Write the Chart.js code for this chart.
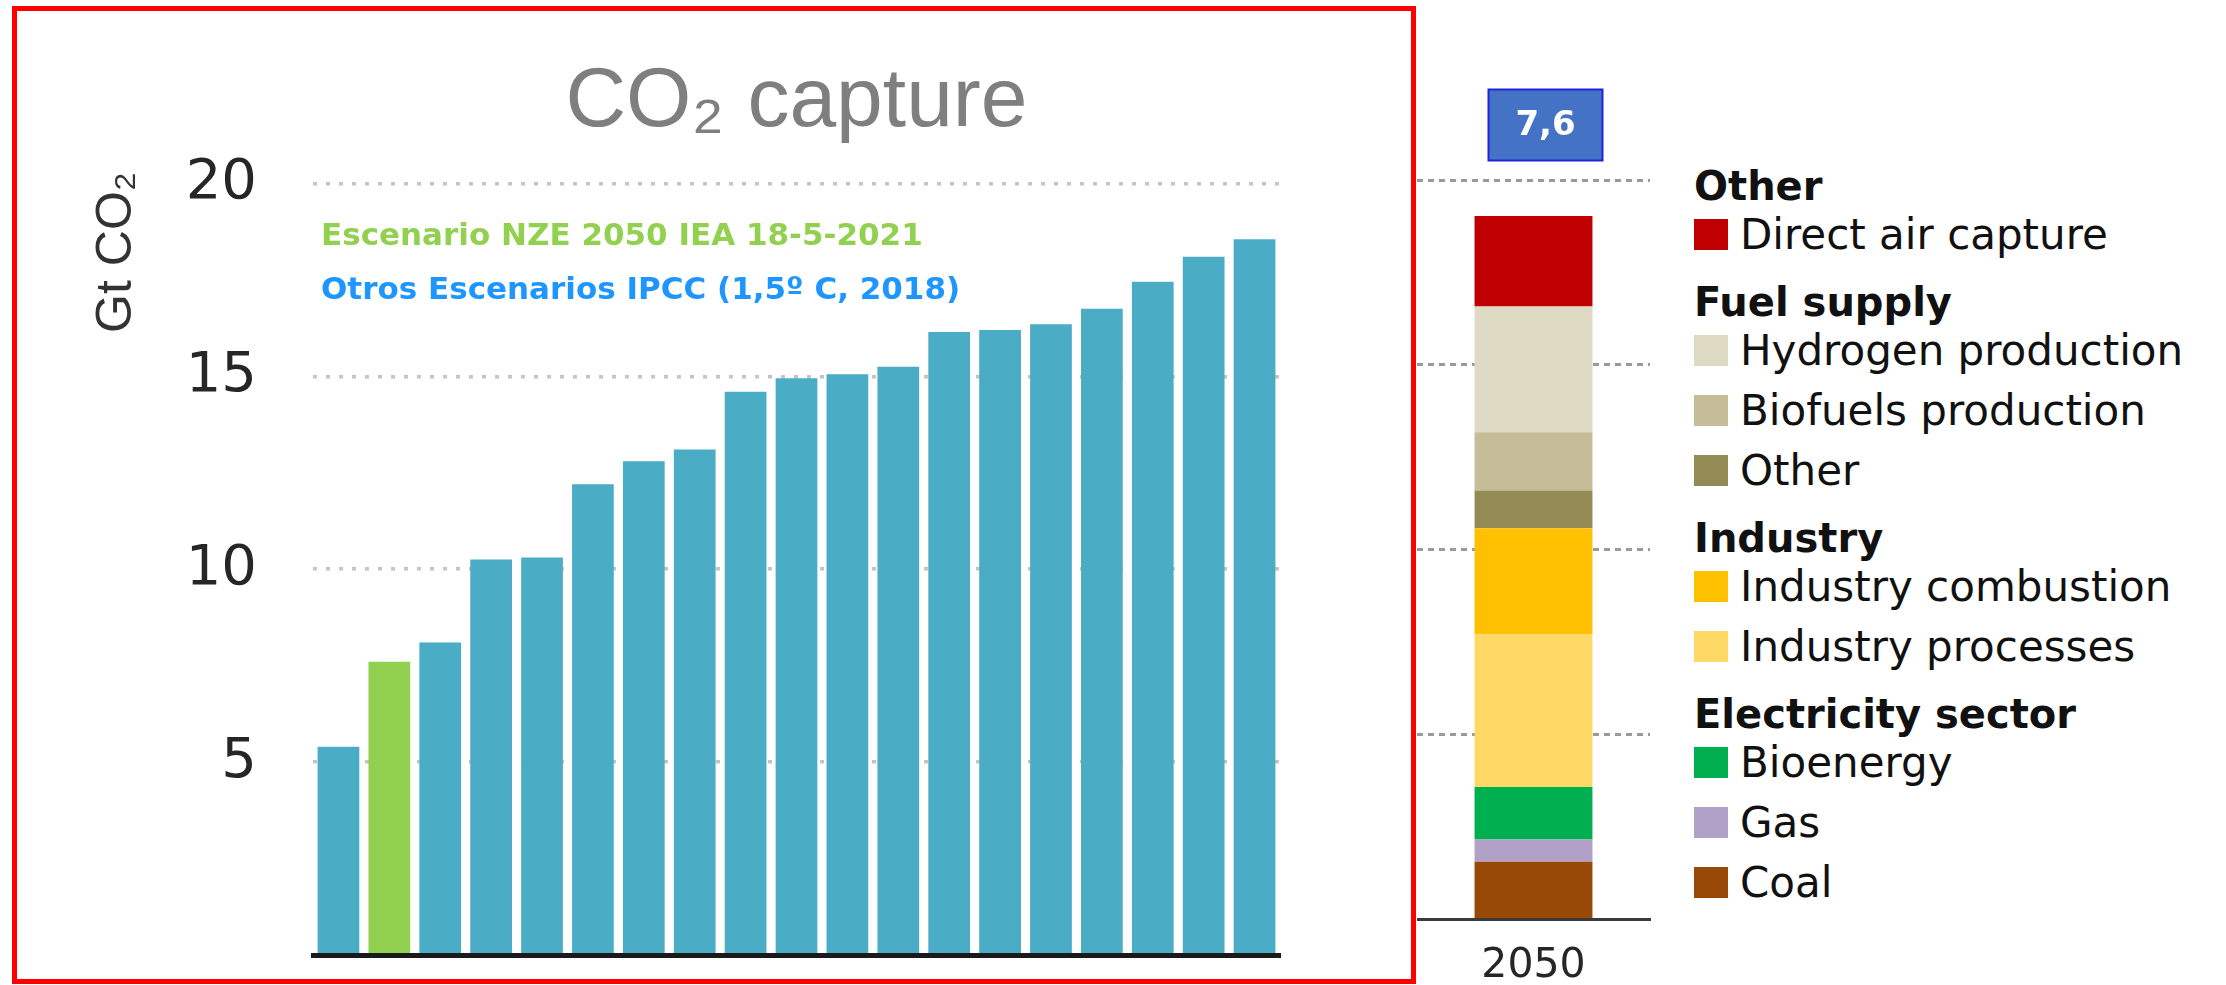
<!DOCTYPE html>
<html>
<head>
<meta charset="utf-8">
<title>CO2 capture</title>
<script src="https://cdn.jsdelivr.net/npm/chart.js@4.4.1/dist/chart.umd.min.js"></script>
<style>
  html, body { margin: 0; padding: 0; background: #fff; width: 2226px; height: 985px; overflow: hidden; }
  #scenarioChart { position: absolute; left: 0; top: 0; }
  #frame { position: absolute; left: 12px; top: 6px; width: 1404px; height: 978px; box-sizing: border-box; border: 5px solid #ff0000; pointer-events: none; }
  #sectorChart { position: absolute; left: 1417px; top: 0; }
  #legend { position: absolute; left: 1694px; top: 0; font-family: 'DejaVu Sans'; color: #111; }
  .row { position: absolute; left: 0; height: 50px; display: flex; align-items: center; white-space: nowrap; }
  .head { font-weight: bold; font-size: 40px; }
  .item { font-size: 42px; }
  .box { width: 34px; height: 31px; margin-right: 12px; }
</style>
</head>
<body>
<canvas id="scenarioChart" width="1420" height="985"></canvas>
<div id="frame"></div>
<canvas id="sectorChart" width="260" height="985"></canvas>
<div id="legend"></div>

<script>
// escenarios (Gt CO2 capturadas), ordenados de menor a mayor
var scenarioLabels = ['IPCC 1', 'IEA NZE 2050', 'IPCC 2', 'IPCC 3', 'IPCC 4', 'IPCC 5', 'IPCC 6',
    'IPCC 7', 'IPCC 8', 'IPCC 9', 'IPCC 10', 'IPCC 11', 'IPCC 12', 'IPCC 13', 'IPCC 14',
    'IPCC 15', 'IPCC 16', 'IPCC 17', 'IPCC 18'];
var scenarioValues = [5.4, 7.6, 8.1, 10.25, 10.3, 12.2, 12.8, 13.1, 14.6, 14.95, 15.05,
    15.25, 16.15, 16.2, 16.35, 16.75, 17.45, 18.1, 18.55];
var nzeIndex = 1;
var yTicks = [5, 10, 15, 20];
var noteLines = ['Escenario NZE 2050 IEA 18-5-2021', 'Otros Escenarios IPCC (1,5º C, 2018)'];

// desglose NZE 2050 (de abajo arriba)
var yearLabels = ['2050'];
var sectorLabels = ['Coal', 'Gas', 'Bioenergy', 'Industry processes', 'Industry combustion',
    'Other', 'Biofuels production', 'Hydrogen production', 'Direct air capture'];
var sectorValues = [0.62, 0.24, 0.57, 1.65, 1.15, 0.41, 0.63, 1.36, 0.98];
var sectorColors = ['#984807', '#b1a0c7', '#00b050', '#ffd966', '#ffc000',
    '#948a54', '#c4bd97', '#ddd9c3', '#c00000'];
var sectorTicks = [2, 4, 6, 8];
var legendGroups = [
    ['Other', ['Direct air capture']],
    ['Fuel supply', ['Hydrogen production', 'Biofuels production', 'Other']],
    ['Industry', ['Industry combustion', 'Industry processes']],
    ['Electricity sector', ['Bioenergy', 'Gas', 'Coal']]
];

Chart.defaults.font.family = 'DejaVu Sans';

// textos verde / azul dentro del area del grafico
var scenarioNotes = {
    id: 'scenarioNotes',
    afterDraw: function (chart) {
        var ctx = chart.ctx, area = chart.chartArea;
        ctx.save();
        ctx.font = 'bold 31px "DejaVu Sans"';
        ctx.textBaseline = 'middle';
        ctx.textAlign = 'left';
        ctx.fillStyle = '#92d050';
        ctx.fillText(noteLines[0], area.left + 8, area.top + 65);
        ctx.fillStyle = '#1e96ff';
        ctx.fillText(noteLines[1], area.left + 8, area.top + 119);
        ctx.restore();
    }
};

// caja azul con el total encima de la barra apilada
var totalBox = {
    id: 'totalBox',
    afterDatasetsDraw: function (chart) {
        var ctx = chart.ctx;
        var total = sectorValues.reduce(function (a, b) { return a + b; }, 0);
        var text = total.toFixed(1).replace('.', ',');
        var bar = chart.getDatasetMeta(0).data[0];
        var cx = bar.x + 12, cy = chart.chartArea.top - 55;
        var w = 114, h = 71;
        ctx.save();
        ctx.fillStyle = '#4472c4';
        ctx.fillRect(cx - w / 2, cy - h / 2, w, h);
        ctx.strokeStyle = '#2323d8';
        ctx.lineWidth = 2;
        ctx.strokeRect(cx - w / 2, cy - h / 2, w, h);
        ctx.fillStyle = '#ffffff';
        ctx.font = 'bold 34px "DejaVu Sans"';
        ctx.textAlign = 'center';
        ctx.textBaseline = 'middle';
        ctx.fillText(text, cx, cy + 1);
        ctx.restore();
    }
};

new Chart(document.getElementById('scenarioChart'), {
    type: 'bar',
    data: {
        labels: scenarioLabels,
        datasets: [{
            data: scenarioValues,
            backgroundColor: scenarioValues.map(function (v, i) {
                return i === nzeIndex ? '#92d050' : '#4bacc6';
            }),
            barPercentage: 0.82,
            categoryPercentage: 1
        }]
    },
    options: {
        responsive: false,
        animation: false,
        layout: { padding: { left: 79, right: 140, top: 0, bottom: 30 } },
        plugins: {
            legend: { display: false },
            tooltip: { enabled: false },
            title: {
                display: true,
                text: 'CO₂ capture',
                fullSize: false,
                color: '#7f7f7f',
                font: { family: 'Liberation Sans', size: 84, weight: 'normal', lineHeight: 1.2 },
                padding: { top: 52, bottom: 19 }
            }
        },
        scales: {
            x: {
                grid: { display: false, drawTicks: false },
                ticks: { display: false },
                border: { display: true, color: '#1a1a1a', width: 5, z: 1 }
            },
            y: {
                min: 0,
                max: 20.3,
                afterBuildTicks: function (s) {
                    s.ticks = yTicks.map(function (v) { return { value: v }; });
                },
                afterFit: function (s) {
                    s.width = 234;
                    s.paddingTop = 0;
                    s.paddingBottom = 0;
                },
                grid: { color: '#c4c4c4', lineWidth: 3.5, drawTicks: false },
                border: { display: false, dash: [4, 9] },
                ticks: {
                    color: '#262626',
                    padding: 56,
                    font: { family: 'DejaVu Sans', size: 56 }
                },
                title: {
                    display: true,
                    text: 'Gt CO₂',
                    align: 'end',
                    color: '#333333',
                    font: { family: 'Liberation Sans', size: 50, weight: 'normal', lineHeight: 1.2 },
                    padding: { top: 8, bottom: 0 }
                }
            }
        }
    },
    plugins: [scenarioNotes]
});

new Chart(document.getElementById('sectorChart'), {
    type: 'bar',
    data: {
        labels: yearLabels,
        datasets: sectorLabels.map(function (name, i) {
            return {
                label: name,
                data: [sectorValues[i]],
                backgroundColor: sectorColors[i],
                barPercentage: 0.506,
                categoryPercentage: 1
            };
        })
    },
    options: {
        responsive: false,
        animation: false,
        layout: { padding: { top: 180, left: 0, right: 27, bottom: 2 } },
        plugins: { legend: { display: false }, tooltip: { enabled: false } },
        scales: {
            x: {
                stacked: true,
                afterFit: function (s) { s.height = 64; },
                grid: { display: false, drawTicks: false },
                border: { color: '#3a3a3a', width: 3, z: 1 },
                ticks: { color: '#262626', padding: 27, font: { family: 'DejaVu Sans', size: 41, lineHeight: 1 } }
            },
            y: {
                stacked: true,
                min: 0,
                max: 8,
                afterBuildTicks: function (s) {
                    s.ticks = sectorTicks.map(function (v) { return { value: v }; });
                },
                ticks: { display: false },
                grid: { color: '#9a9a9a', lineWidth: 3, drawTicks: false },
                border: { display: false, dash: [6, 5] }
            }
        }
    },
    plugins: [totalBox]
});

// leyenda agrupada (cabeceras en negrita)
var legend = document.getElementById('legend');
function addRow(text, color, y) {
    var row = document.createElement('div');
    row.className = 'row ' + (color ? 'item' : 'head');
    row.style.top = (y - 25) + 'px';
    if (color) {
        var sw = document.createElement('span');
        sw.className = 'box';
        sw.style.background = color;
        row.appendChild(sw);
    }
    var t = document.createElement('span');
    t.textContent = text;
    row.appendChild(t);
    legend.appendChild(row);
}
var y = 186;
legendGroups.forEach(function (g, gi) {
    if (gi > 0) y += 68;
    addRow(g[0], null, y);
    y += 48;
    g[1].forEach(function (name, k) {
        if (k > 0) y += 60;
        addRow(name, sectorColors[sectorLabels.indexOf(name)], y);
    });
});
</script>
</body>
</html>
